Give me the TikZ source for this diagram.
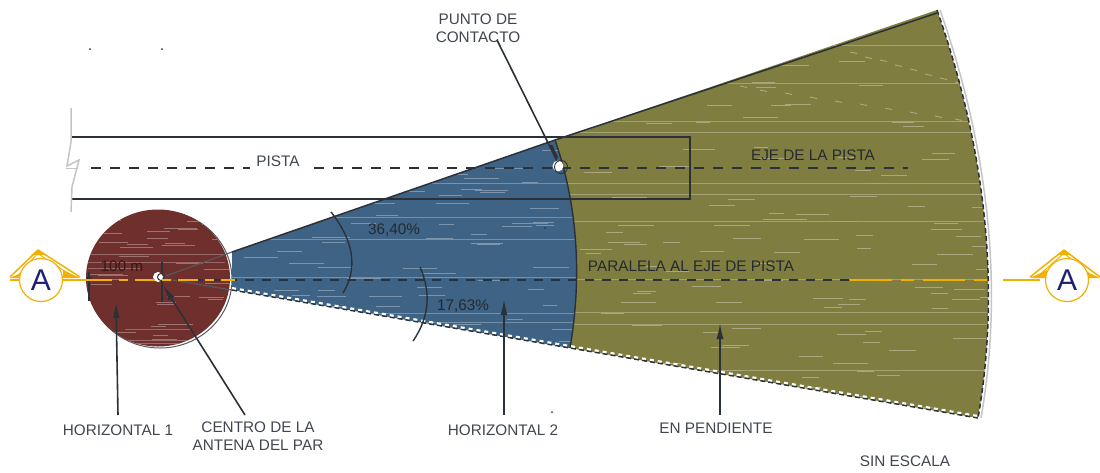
\documentclass[tikz,border=0pt]{standalone}
\usepackage{fontspec}
\setmainfont{Liberation Sans}
\usetikzlibrary{arrows.meta}
\definecolor{maroonfill}{HTML}{6F302D}
\definecolor{bluefill}{HTML}{3F6385}
\definecolor{olivefill}{HTML}{7F7D40}
\definecolor{inkdark}{HTML}{2B3138}
\definecolor{labelink}{HTML}{3F4650}
\definecolor{signyellow}{HTML}{F2B005}
\definecolor{railgray}{HTML}{C4C4C4}
\tikzset{
  lab/.style={font=\fontsize{15.3}{18}\selectfont,text=labelink,align=center,inner sep=0pt},
  onfill/.style={font=\fontsize{15.3}{18}\selectfont,text=inkdark!85!black,inner sep=0pt},
  rail/.style={draw=inkdark,line width=1.7pt},
  center line/.style={draw=inkdark,line width=1.8pt,dash pattern=on 10pt off 9pt},
  edge dash/.style={draw=inkdark,line width=1.5pt,dash pattern=on 5pt off 3pt},
  leader/.style={draw=inkdark,line width=1.6pt},
  leader tip/.style={leader,-{Latex[length=16pt,width=7pt]}},
  sweep/.style={draw=inkdark,line width=1.4pt},
  tex long/.style={line width=1pt},
  sign line/.style={draw=signyellow,line width=1.8pt},
  sign disc/.style={circle,draw=signyellow,fill=white,line width=1.2pt,minimum size=43pt,inner sep=0pt,
    font=\fontsize{30}{30}\selectfont,text=inkdark!70!blue},
}
\newcommand{\texturerows}[6]{% colour, xmin, xmax, ymin, ymax, count
  \foreach \nn in {1,...,#6}{
    \pgfmathsetmacro{\xa}{random(#2,#3)}
    \pgfmathsetmacro{\ya}{random(#4,#5)}
    \pgfmathsetmacro{\la}{random(14,36)}
    \draw[#1,line width=1pt] (\xa,\ya) -- ++(\la,0);
  }
}
\begin{document}
\begin{tikzpicture}[x=1pt,y=-1pt]
\useasboundingbox (0,0) rectangle (1100,472);
% key points
\coordinate (ctr) at (160,278);
\coordinate (bTop) at (232,252);
\coordinate (bBot) at (232,290);
\coordinate (mTop) at (555,140);
\coordinate (mBot) at (570,348);
\coordinate (oTop) at (937,10);
\coordinate (oBot) at (978,418);
\pgfmathsetseed{4711}
% shadow of the disc and the disc
\draw[draw=inkdark!80,fill=white,line width=1pt] (160,279.5) ellipse [x radius=72,y radius=68.5];
\fill[maroonfill] (158,278) ellipse [x radius=72,y radius=68.5];
\begin{scope}
  \clip (158,278) ellipse [x radius=72,y radius=68.5];
  \foreach \yy/\xs/\xe in {254/90/225,262/88/225,268/88/140,340/120/190,329/125/190,343/130/180}
    \draw[maroonfill!72!white,tex long] (\xs,\yy) -- (\xe,\yy);
  \texturerows{maroonfill!68!white}{85}{215}{215}{340}{34}
\end{scope}
% blue sector
\fill[bluefill] (bTop) -- (mTop) .. controls (578,206) and (582,278) .. (mBot) -- (bBot) -- cycle;
\begin{scope}
  \clip (bTop) -- (mTop) .. controls (578,206) and (582,278) .. (mBot) -- (bBot) -- cycle;
  \foreach \yy in {183,217,239,277,313,322}
    \draw[bluefill!72!white,tex long] (220,\yy) -- (585,\yy);
  \texturerows{bluefill!68!white}{235}{560}{150}{345}{85}
\end{scope}
% olive sector
\fill[olivefill] (mTop) -- (oTop) .. controls (983,141) and (1002,281) .. (oBot) -- (mBot) .. controls (582,278) and (578,206) .. (mTop) -- cycle;
\begin{scope}
  \clip (mTop) -- (oTop) .. controls (983,141) and (1002,281) .. (oBot) -- (mBot) .. controls (582,278) and (578,206) .. (mTop) -- cycle;
  \foreach \yy in {45,83,121,132,183,194,221,279,312,324,370}
    \draw[olivefill!72!white,tex long] (550,\yy) -- (1000,\yy);
  \texturerows{olivefill!68!white}{570}{980}{60}{410}{115}
  \foreach \xx/\yy in {850/52,865/57,880/60,895/65,910/69,925/74,940/78,955/82,740/86,760/90,785/93,810/97,835/101,860/104,885/108,910/112,935/116,955/119}
    \draw[olivefill!65!white,line width=.9pt] (\xx,\yy) -- ++(7,1.5);
\end{scope}
% white stripe and edges of the sectors
\draw[white,line width=2.5pt,dash pattern=on 4pt off 4pt] ([yshift=1.8pt]bBot) -- ([yshift=1.8pt]mBot) -- ([yshift=1.8pt]oBot);
\draw[edge dash] (bBot) -- (mBot) -- (oBot);
\draw[white,line width=2.5pt] ([xshift=1.5pt]oTop) .. controls (984.5,141) and (1003.5,281) .. ([xshift=1.5pt]oBot);
\draw[railgray,line width=1.5pt] ([xshift=3pt]oTop) .. controls (986,141) and (1005,281) .. ([xshift=3pt]oBot);
\draw[edge dash] (oTop) .. controls (983,141) and (1002,281) .. (oBot);
\draw[inkdark,line width=1.5pt] (bTop) -- (mTop) -- ([yshift=-3pt]oTop);
\draw[sweep] (mTop) .. controls (578,206) and (582,278) .. (mBot);
\draw[inkdark!80,line width=1.1pt] (ctr) -- (bTop);
\draw[inkdark!80,line width=1.1pt] (ctr) -- (bBot);
% runway
\coordinate (rTL) at (72,137);
\coordinate (rTR) at (690,137);
\coordinate (rBR) at (690,199);
\coordinate (rBL) at (72,199);
\draw[rail] (rTL) -- (rTR) -- (rBR) -- (rBL);
\draw[railgray,line width=1.5pt] (71,108) -- (71,142) -- (67,166) -- (79,160) -- (72,187) -- (71,212);
\draw[railgray,line width=1pt] (66,168) -- (78,168);
\coordinate (clA) at (91,168);
\coordinate (clB) at (250,168);
\coordinate (clC) at (314,168);
\coordinate (clD) at (908,168);
\draw[center line] (clA) -- (clB);
\draw[center line] (clC) -- (clD);
% parallel axis
\coordinate (paA) at (160,280);
\coordinate (paB) at (850,280);
\coordinate (paC) at (994,280);
\draw[center line,line width=1.5pt,dash pattern=on 9pt off 8pt] (paA) -- (paB);
\draw[sign line,dash pattern=on 42pt off 9pt on 13pt off 9pt] (paB) -- (paC);
% angle arcs
\draw[sweep] (331,212) .. controls (347,232) and (362,262) .. (343,293);
\draw[sweep] (420,267) .. controls (430,290) and (431,315) .. (413,341);
% antenna centre
\draw[inkdark,line width=1.5pt] (162,262) -- (162,302);
\fill[white] (158,277) circle (5);
\draw[inkdark,line width=1pt] (161,277) circle (3.5);
\draw[inkdark,line width=2pt] (89,272) -- (89,301);
\draw[inkdark,line width=2pt] (86,278) -- (92,278);
% contact point
\coordinate (contact) at (560,167);
\coordinate (pcTop) at (497,40);
\draw[leader] (pcTop) -- (contact);
\draw[inkdark,line width=2.5pt] (551,145) -- (557,158);
\fill[white] (558,166) circle (5.5);
\draw[inkdark,line width=.9pt] (561,167) circle (6.5);
% yellow axis left
\coordinate (leftEnd) at (10,280);
\coordinate (leftStop) at (235,280);
\draw[sign line] (leftEnd) -- (92,280);
\draw[sign line,dash pattern=on 20pt off 7pt on 9pt off 7pt] (92,280) -- (leftStop);
% A markers
\coordinate (rightStart) at (1003,280);
\coordinate (rightEnd) at (1100,280);
\draw[sign line] (rightStart) -- (1040,280);
\foreach \cx/\ax/\bl/\br/\by in {41/38/10/80/277,1067/1064/1030/1100/277}{
  \fill[signyellow] (\ax,250) -- (\ax+7,255) -- (\ax-7,255) -- cycle;
  \draw[signyellow,line width=1.5pt,line join=round] (\bl,\by) -- (\ax,250) -- (\br,\by);
  \draw[signyellow,line width=1pt] (\bl+8,\by-1) -- (\ax-2,255);
  \draw[signyellow,line width=1pt] (\br-8,\by-1) -- (\ax+2,255);
  \fill[signyellow] (\bl,\by+1) -- (\bl+17,\by-7) -- (\bl+17,\by+1) -- cycle;
  \fill[signyellow] (\br,\by+1) -- (\br-17,\by-7) -- (\br-17,\by+1) -- cycle;
}
\node[sign disc] (signL) at (41,280) {A};
\node[sign disc] (signR) at (1067,280) {A};
% labels
\node[lab] (pcLab) at (478,28) {PUNTO DE\\CONTACTO};
\node[lab] (pista) at (278,161) {PISTA};
\node[onfill] (ejeLab) at (813,155) {EJE DE LA PISTA};
\node[onfill] (paraLab) at (691,266) {PARALELA AL EJE DE PISTA};
\node[onfill,text=maroonfill!50!black] (cien) at (122,266) {100 m};
\node[onfill] (a1) at (394,230) {36,40\%};
\node[onfill] (a2) at (463,306) {17,63\%};
\node[lab] (h1) at (118,430) {HORIZONTAL 1};
\node[lab] (cLab) at (258,436) {CENTRO DE LA\\ANTENA DEL PAR};
\node[lab] (h2) at (503,430) {HORIZONTAL 2};
\node[lab] (enp) at (716,428) {EN PENDIENTE};
\node[lab] (sin) at (905,461) {SIN ESCALA};
% leaders with tips
\coordinate (h1tip) at (116,302);
\coordinate (h1foot) at (118,415);
\coordinate (ctip) at (163,285);
\coordinate (cfoot) at (245,415);
\coordinate (h2tip) at (504,299);
\coordinate (h2foot) at (504,415);
\coordinate (ptip) at (720,323);
\coordinate (pfoot) at (720,415);
\draw[leader tip] (h1foot) -- (h1tip);
\draw[leader tip] (cfoot) -- (ctip);
\draw[leader tip] (h2foot) -- (h2tip);
\draw[leader tip] (pfoot) -- (ptip);
% specks
\fill[inkdark] (90,49) circle (1);
\fill[inkdark] (162,49) circle (1);
\fill[inkdark] (545,228) circle (1);
\fill[inkdark] (552,412) circle (1);
\end{tikzpicture}
\end{document}
